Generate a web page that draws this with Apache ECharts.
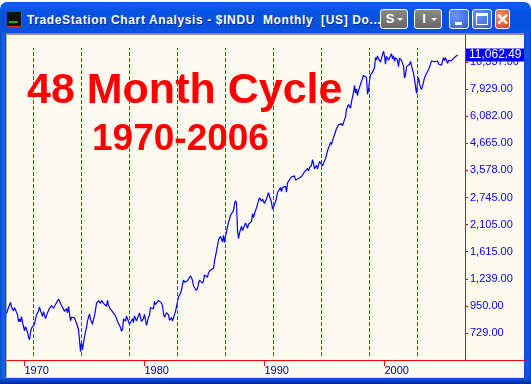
<!DOCTYPE html>
<html><head><meta charset="utf-8">
<style>
html,body{margin:0;padding:0;background:#fff;overflow:hidden}
#win{position:absolute;left:0;top:2px;width:531px;height:382px;border-radius:7px 7px 0 0;
 background:linear-gradient(#0a58e0 0,#0a5ff0 3px,#0553e0 10px,#0750dc 24px,#0a55e5 30px);overflow:hidden}
#frame{position:absolute;left:0;right:0;bottom:0;top:30px;background:linear-gradient(90deg,#0a3fc8 0,#1464f0 3px,#0a50dc 6px)}
#bot{position:absolute;left:0;right:0;bottom:0;height:5px;background:linear-gradient(#0a50dc,#00258c)}
#rb{position:absolute;right:0;top:30px;bottom:0;width:6px;background:linear-gradient(90deg,#0a50dc,#1258e8,#0a3fc8)}
#panel{position:absolute;left:6px;top:31px;width:518px;height:345px;background:#fffaf0;
 border-top:2px solid #8c8c8c;border-left:1px solid #b0a898;border-bottom:1px solid #ddd;box-sizing:border-box}
#chart{position:absolute;left:0;top:0;width:531px;height:384px}
#title{position:absolute;left:27px;top:11px;color:#fff;font:bold 12px "Liberation Sans",Arial,sans-serif;letter-spacing:.62px;white-space:pre;text-shadow:1px 1px 0 #0a2a90}
#icon{position:absolute;left:7px;top:10px;width:15px;height:15px;background:#111;border-bottom:1px solid #c33;border-right:1px solid #c33;box-sizing:border-box}
#icon i{position:absolute;left:2px;top:9px;width:9px;height:2px;background:#2a2}
.b{position:absolute;top:7px;height:20px;border-radius:3px;border:1px solid #fff;box-sizing:border-box;color:#fff;font:bold 13px "Liberation Sans",Arial,sans-serif;text-align:center;line-height:18px}
.g{width:28px;background:linear-gradient(#8a8a8a,#666);padding-right:8px}
.g:after{content:"";position:absolute;right:4px;top:8px;border:3px solid transparent;border-top:3px solid #fff}
.w{width:20px;background:radial-gradient(circle at 30% 30%,#6a96f2,#2a5fdc)}
.m:after{content:"";position:absolute;left:5px;bottom:3px;width:7px;height:3px;background:#fff}
.x:after{content:"";position:absolute;left:3px;top:3px;width:12px;height:12px;border:1px solid #fff;border-top:3px solid #fff;box-sizing:border-box}
.c{background:radial-gradient(circle at 30% 30%,#f09070,#d8401c);font:bold 16px "Liberation Sans",Arial,sans-serif}
</style></head><body>
<div id="win"><div id="frame"></div><div id="rb"></div><div id="bot"></div><div id="panel"></div>
<div id="icon"><i></i></div>
<div id="title">TradeStation Chart Analysis - $INDU  Monthly  [US] Do...</div>
<div class="b g" style="left:380px">S</div><div class="b g" style="left:414px">I</div>
<div class="b w m" style="left:449px"></div><div class="b w x" style="left:472px"></div><div class="b c" style="left:495px">✕</div>
</div>
<div id="chart"></div>
<script src="https://cdn.jsdelivr.net/npm/echarts@6/dist/echarts.min.js"></script>
<script>
const startYear = 1968, startMonth = 6; // first close: Jul 1968
const closes = [
883,896,936,952,985,943,
946,905,935,950,937,873,815,836,813,856,812,800,
744,777,786,736,700,683,734,765,761,756,794,839,
869,879,904,942,908,891,858,898,887,839,831,890,
902,928,941,954,960,929,925,964,953,956,1018,1020,
999,955,951,921,901,892,926,888,947,956,822,851,
856,860,847,837,802,802,757,679,608,666,619,616,
703,739,768,821,832,879,832,835,794,836,860,852,
975,973,1000,997,975,1003,985,974,990,965,947,1005,
954,937,919,927,899,916,890,862,847,818,830,831,
770,742,757,837,841,819,862,877,866,792,799,805,
839,808,862,855,822,842,846,888,879,816,822,839,
876,863,786,817,851,868,935,933,932,925,993,964,
947,975,1004,998,992,977,952,882,850,853,889,875,
871,825,823,848,820,812,809,901,896,992,1039,1046,
1076,1113,1130,1226,1200,1222,1199,1216,1233,1225,1276,1258,
1221,1155,1165,1171,1105,1132,1115,1224,1207,1207,1188,1212,
1287,1284,1267,1258,1315,1336,1348,1334,1329,1374,1472,1547,
1571,1709,1819,1784,1877,1893,1775,1898,1768,1878,1914,1896,
2158,2224,2305,2286,2292,2419,2572,2663,2596,1994,1834,1939,
1958,2072,1988,2032,2031,2142,2129,2032,2113,2149,2114,2169,
2342,2258,2294,2419,2480,2440,2661,2737,2693,2645,2706,2753,
2590,2627,2707,2657,2877,2881,2905,2614,2453,2442,2560,2634,
2736,2882,2914,2888,3028,2907,3025,3044,3017,3069,2895,3169,
3223,3267,3236,3359,3397,3319,3394,3257,3272,3226,3305,3301,
3310,3370,3435,3428,3527,3516,3540,3651,3555,3681,3684,3754,
3978,3832,3636,3682,3758,3625,3765,3913,3843,3908,3739,3834,
3844,4011,4158,4321,4465,4556,4709,4611,4789,4756,5075,5117,
5395,5486,5587,5569,5643,5655,5529,5616,5882,6029,6522,6448,
6813,6878,6584,7009,7331,7673,8223,7622,7945,7442,7823,7908,
7907,8546,8800,9063,8900,8952,8883,7539,7843,8592,9117,9181,
9359,9307,9786,10789,10560,10971,10655,10829,10337,10730,10878,11497,
10941,10128,10922,10734,10522,10448,10522,11215,10651,10971,10415,10787,
10887,10495,9879,10735,10912,10502,10523,9950,8848,9075,9852,10022,
9920,10106,10404,9946,9925,9243,8737,8663,7592,8397,8896,8342,
8054,7891,7992,8480,8850,8985,9234,9416,9275,9801,9782,10454,
10488,10584,10358,10226,10188,10435,10140,10174,10080,10027,10428,10783,
10490,10766,10504,10193,10467,10275,10641,10482,10569,10440,10806,10718,
10865,11062.49];
const priceTicks = [729,950,1239,1615,2105,2745,3578,4665,6082,7929,10337];
const yearTicks = [1970,1980,1990,2000];
const cycleLines = [1970.75,1974.75,1978.75,1982.75,1986.75,1990.75,1994.75,1998.75,2002.75];
const headline = "48 Month Cycle", subhead = "1970-2006";
const lastValue = closes[closes.length-1];

const points = closes.map((v,i)=>[startYear+(startMonth+i)/12, v]);
const fmt = v => v.toLocaleString('en-US',{minimumFractionDigits:2,maximumFractionDigits:2});
const dash = {color:'#ff0000',type:[4,2],width:1,opacity:1};
const chart = echarts.init(document.getElementById('chart'),null,{renderer:'canvas'});
chart.setOption({
 animation:false,
 backgroundColor:'transparent',
 textStyle:{fontFamily:'"Liberation Sans",Arial,sans-serif'},
 title:[
  {text:headline,left:22,top:65,textStyle:{color:'#ff0000',fontSize:43,fontWeight:'bold',fontFamily:'"Liberation Sans",Arial,sans-serif'}},
  {text:subhead,left:87,top:116,textStyle:{color:'#ff0000',fontSize:37,fontWeight:'bold',fontFamily:'"Liberation Sans",Arial,sans-serif'}}
 ],
 grid:{left:7,top:35,width:518,height:325,containLabel:false},
 xAxis:{type:'value',min:1970-17.5/12,max:1970+500.5/12,
  splitLine:{show:false},
  axisLine:{lineStyle:{color:'#ff0000',width:1}},
  axisTick:{show:true,length:6,lineStyle:{color:'#ff0000'},customValues:yearTicks},
  axisLabel:{customValues:yearTicks,color:'#00007f',fontSize:11,align:'left',margin:5,formatter:v=>String(v)}},
 yAxis:{type:'log',logBase:10,position:'right',offset:-60,min:560,max:13460,
  splitLine:{show:false},minorTick:{show:false},
  axisLine:{show:true,onZero:false,lineStyle:{color:'#ff0000',width:1}},
  axisTick:{show:true,length:3,lineStyle:{color:'#ff0000'},customValues:priceTicks},
  axisLabel:{customValues:priceTicks,color:'#0000ff',fontSize:11,margin:5,formatter:v=>fmt(Number(v))}},
 series:[{type:'line',data:points,showSymbol:false,symbol:'none',z:3,
  lineStyle:{color:'#0000ff',width:1.2},
  markLine:{silent:true,symbol:'none',label:{show:false},animation:false,
   lineStyle:dash,itemStyle:{color:'#ff0000'},
   data:cycleLines.map(x=>[{coord:[x,582],lineStyle:dash},{coord:[x,11860],lineStyle:dash}])},
  markPoint:{silent:true,symbol:'rect',symbolSize:0,animation:false,
   data:[{coord:[1970+441.5/12,lastValue],value:lastValue}],
   label:{show:true,position:'right',distance:0,formatter:fmt(lastValue),color:'#fff',backgroundColor:'#0000ff',fontSize:12,padding:[1,2,1,3],width:53,height:11,lineHeight:11}}
 }]
});
</script></body></html>
